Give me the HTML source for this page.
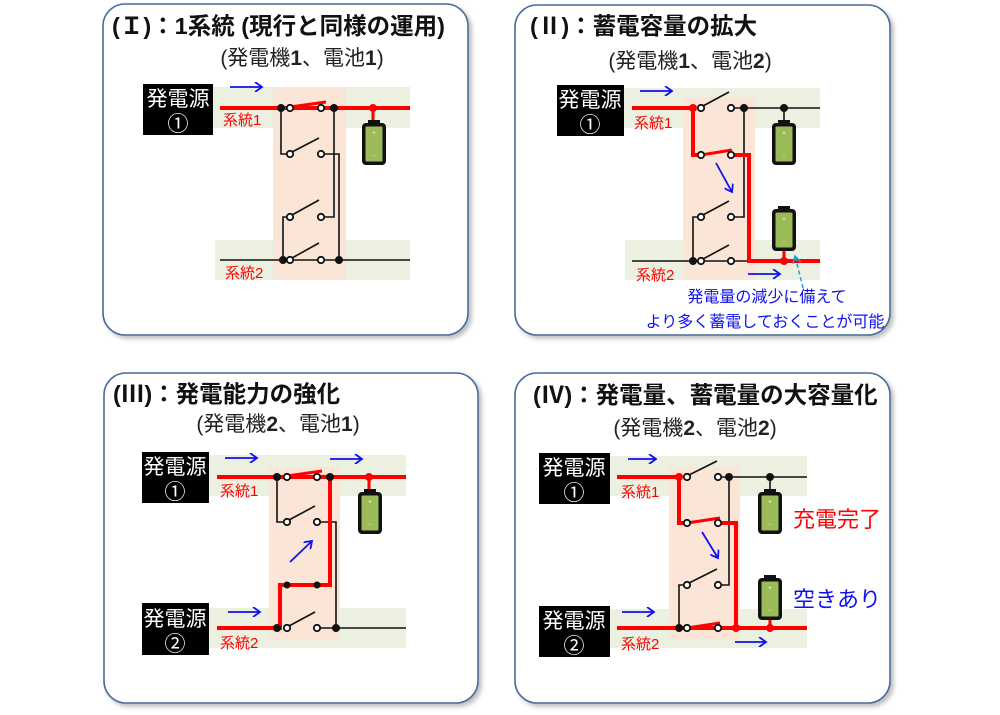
<!DOCTYPE html>
<html><head><meta charset="utf-8"><style>
body{margin:0;background:#fff}
svg{display:block}
text{font-family:"Liberation Sans","Noto Sans CJK JP",sans-serif}
.t{font-weight:bold;font-size:23.5px;fill:#111}
.s{font-size:21px;fill:#222}
.g{font-size:21px;fill:#fff}
.k{font-size:15px;fill:#f00}
</style></head><body>
<svg width="1000" height="715" viewBox="0 0 1000 715" xmlns="http://www.w3.org/2000/svg">
<defs>
<marker id="ah" markerWidth="10" markerHeight="10" refX="8" refY="5" orient="auto" markerUnits="userSpaceOnUse"><polyline points="1,0 8,5 1,10" fill="none" stroke="#1010f0" stroke-width="1.8"/></marker>
<marker id="ac" markerWidth="10" markerHeight="10" refX="8" refY="5" orient="auto" markerUnits="userSpaceOnUse"><polyline points="1,1 8,5 1,9" fill="none" stroke="#1aa0e0" stroke-width="1.5"/></marker>
<g id="bat"><rect x="6" y="-3" width="12" height="5" fill="#111"/><rect x="0" y="0" width="24" height="42" rx="4" fill="#111"/><rect x="3.5" y="3.5" width="17" height="35" rx="1" fill="#9bbb59"/><text x="12" y="12" font-size="6" fill="#fff" text-anchor="middle">+</text><text x="12" y="34" font-size="6" fill="#fff" text-anchor="middle">-</text></g>
<filter id="sh" x="-5%" y="-5%" width="110%" height="110%"><feDropShadow dx="3" dy="3" stdDeviation="2" flood-color="#000" flood-opacity="0.25"/></filter>
</defs>

<g fill="#fff" stroke="#4a6c9b" stroke-width="1.6" filter="url(#sh)">
<rect x="103" y="4" width="365" height="331" rx="22"/>
<rect x="515" y="5" width="375" height="330" rx="22"/>
<rect x="104" y="373" width="374" height="330" rx="22"/>
<rect x="515" y="373" width="375" height="330" rx="22"/>
</g>

<!-- ===== Panel I ===== -->
<text class="t" x="112" y="34">(Ｉ)：1系統 (現行と同様の運用)</text>
<text class="s" x="302" y="65" text-anchor="middle">(発電機<tspan font-weight="bold">1</tspan>、電池<tspan font-weight="bold">1</tspan>)</text>
<rect x="213" y="87" width="197" height="41" fill="#ebf0e0"/>
<rect x="215" y="240" width="195" height="40" fill="#ebf0e0"/>
<rect x="273" y="87" width="73" height="193" fill="#fbe5d6"/>
<rect x="143" y="84" width="70" height="51" fill="#000"/>
<text class="g" x="178" y="106" text-anchor="middle">発電源</text>
<text class="g" x="178" y="131" text-anchor="middle">①</text>
<line x1="230" y1="87" x2="262" y2="87" stroke="#1010f0" stroke-width="1.8" marker-end="url(#ah)"/>
<text class="k" x="223" y="125">系統1</text>
<text class="k" x="225" y="278">系統2</text>
<g stroke="#111" stroke-width="1.6" fill="none">
<polyline points="281,108 281,154 290,154"/>
<polyline points="321,154 339,154 339,260"/>
<polyline points="321,217 334,217 334,108"/>
<polyline points="290,217 283,217 283,260"/>
<line x1="220" y1="260" x2="410" y2="260"/>
<line x1="292" y1="152" x2="319" y2="138"/>
<line x1="292" y1="215" x2="319" y2="200"/>
<line x1="292" y1="258" x2="319" y2="243"/>
</g>
<line x1="220" y1="108" x2="410" y2="108" stroke="#f00" stroke-width="4"/>
<line x1="290" y1="107" x2="326" y2="102" stroke="#f00" stroke-width="3"/>
<line x1="373" y1="108" x2="373" y2="124" stroke="#f00" stroke-width="3"/>
<use href="#bat" x="362" y="123"/>
<g fill="#111"><circle cx="281" cy="108" r="4"/><circle cx="334" cy="108" r="4"/><circle cx="283" cy="260" r="4"/><circle cx="339" cy="260" r="4"/></g>
<circle cx="373" cy="108" r="4" fill="#f00"/>
<g fill="#fff" stroke="#111" stroke-width="1.8"><circle cx="290" cy="108" r="3.2"/><circle cx="321" cy="108" r="3.2"/><circle cx="290" cy="154" r="3.2"/><circle cx="321" cy="154" r="3.2"/><circle cx="290" cy="217" r="3.2"/><circle cx="321" cy="217" r="3.2"/><circle cx="290" cy="260" r="3.2"/><circle cx="321" cy="260" r="3.2"/></g>

<!-- ===== Panel II ===== -->
<text class="t" x="530" y="34">(Ⅱ)：蓄電容量の拡大</text>
<text class="s" x="690" y="68" text-anchor="middle">(発電機<tspan font-weight="bold">1</tspan>、電池<tspan font-weight="bold">2</tspan>)</text>
<rect x="624" y="88" width="196" height="40" fill="#ebf0e0"/>
<rect x="625" y="240" width="195" height="40" fill="#ebf0e0"/>
<rect x="683" y="98" width="72" height="182" fill="#fbe5d6"/>
<rect x="557" y="85" width="67" height="51" fill="#000"/>
<text class="g" x="590" y="107" text-anchor="middle">発電源</text>
<text class="g" x="590" y="132" text-anchor="middle">①</text>
<line x1="640" y1="91" x2="672" y2="91" stroke="#1010f0" stroke-width="1.8" marker-end="url(#ah)"/>
<text class="k" x="634" y="128">系統1</text>
<text class="k" x="636" y="280">系統2</text>
<g stroke="#111" stroke-width="1.6" fill="none">
<line x1="731" y1="108" x2="820" y2="108"/>
<polyline points="731,217 744,217 744,108"/>
<polyline points="701,217 693,217 693,261"/>
<line x1="632" y1="261" x2="749" y2="261"/>
<line x1="703" y1="106" x2="729" y2="92"/>
<line x1="703" y1="215" x2="729" y2="201"/>
<line x1="703" y1="259" x2="729" y2="245"/>
<line x1="784" y1="108" x2="784" y2="124"/>
</g>
<g stroke="#f00" stroke-width="4" fill="none">
<polyline points="632,108 693,108 693,155 701,155"/>
<line x1="701" y1="155" x2="732" y2="150" stroke-width="3"/>
<polyline points="731,155 749,155 749,261 820,261"/>
<line x1="784" y1="261" x2="784" y2="250" stroke-width="3"/>
</g>
<use href="#bat" x="772" y="123"/>
<use href="#bat" x="772" y="209"/>
<circle cx="693" cy="108" r="4" fill="#f00"/><circle cx="784" cy="261" r="4" fill="#f00"/>
<g fill="#111"><circle cx="744" cy="108" r="4"/><circle cx="784" cy="108" r="4"/><circle cx="693" cy="261" r="4"/></g>
<g fill="#fff" stroke="#111" stroke-width="1.8"><circle cx="701" cy="108" r="3.2"/><circle cx="731" cy="108" r="3.2"/><circle cx="701" cy="155" r="3.2"/><circle cx="731" cy="155" r="3.2"/><circle cx="701" cy="217" r="3.2"/><circle cx="731" cy="217" r="3.2"/><circle cx="701" cy="261" r="3.2"/><circle cx="731" cy="261" r="3.2"/></g>
<line x1="716" y1="163" x2="732" y2="192" stroke="#1010f0" stroke-width="1.8" marker-end="url(#ah)"/>
<line x1="748" y1="274" x2="780" y2="274" stroke="#1010f0" stroke-width="1.8" marker-end="url(#ah)"/>
<line x1="803" y1="288" x2="795" y2="256" stroke="#1aa0e0" stroke-width="1.5" stroke-dasharray="4,3" marker-end="url(#ac)"/>
<text x="767" y="302" font-size="16" fill="#1010f0" text-anchor="middle">発電量の減少に備えて</text>
<text x="765" y="327" font-size="16" fill="#1010f0" text-anchor="middle">より多く蓄電しておくことが可能</text>

<!-- ===== Panel III ===== -->
<text class="t" x="113" y="402">(Ⅲ)：発電能力の強化</text>
<text class="s" x="278" y="431" text-anchor="middle">(発電機<tspan font-weight="bold">2</tspan>、電池<tspan font-weight="bold">1</tspan>)</text>
<rect x="209" y="455" width="197" height="41" fill="#ebf0e0"/>
<rect x="209" y="608" width="197" height="40" fill="#ebf0e0"/>
<rect x="269" y="467" width="71" height="173" fill="#fbe5d6"/>
<rect x="142" y="452" width="67" height="51" fill="#000"/>
<text class="g" x="175" y="474" text-anchor="middle">発電源</text>
<text class="g" x="175" y="499" text-anchor="middle">①</text>
<rect x="142" y="603" width="67" height="52" fill="#000"/>
<text class="g" x="175" y="626" text-anchor="middle">発電源</text>
<text class="g" x="175" y="651" text-anchor="middle">②</text>
<line x1="225" y1="458" x2="257" y2="458" stroke="#1010f0" stroke-width="1.8" marker-end="url(#ah)"/>
<line x1="330" y1="459" x2="362" y2="459" stroke="#1010f0" stroke-width="1.8" marker-end="url(#ah)"/>
<line x1="228" y1="612" x2="260" y2="612" stroke="#1010f0" stroke-width="1.8" marker-end="url(#ah)"/>
<line x1="290" y1="562" x2="312" y2="541" stroke="#1010f0" stroke-width="1.8" marker-end="url(#ah)"/>
<text class="k" x="220" y="496">系統1</text>
<text class="k" x="220" y="648">系統2</text>
<g stroke="#111" stroke-width="1.6" fill="none">
<polyline points="277,477 277,522 287,522"/>
<polyline points="317,522 336,522 336,628 406,628"/>
<line x1="317" y1="628" x2="336" y2="628"/>
<line x1="289" y1="520" x2="315" y2="506"/>
<line x1="289" y1="626" x2="315" y2="612"/>
</g>
<g stroke="#f00" stroke-width="4" fill="none">
<line x1="217" y1="477" x2="406" y2="477"/>
<line x1="287" y1="476" x2="322" y2="471" stroke-width="3"/>
<polyline points="217,628 280,628 280,585 330,585 330,477"/>
<line x1="369" y1="477" x2="369" y2="493" stroke-width="3"/>
</g>
<use href="#bat" x="358" y="492"/>
<circle cx="369" cy="477" r="4" fill="#f00"/>
<g fill="#111"><circle cx="277" cy="477" r="4"/><circle cx="330" cy="477" r="4"/><circle cx="277" cy="628" r="4"/><circle cx="336" cy="628" r="4"/><circle cx="287" cy="585" r="3.5"/><circle cx="317" cy="585" r="3.5"/></g>
<g fill="#fff" stroke="#111" stroke-width="1.8"><circle cx="287" cy="477" r="3.2"/><circle cx="317" cy="477" r="3.2"/><circle cx="287" cy="522" r="3.2"/><circle cx="317" cy="522" r="3.2"/><circle cx="287" cy="628" r="3.2"/><circle cx="317" cy="628" r="3.2"/></g>

<!-- ===== Panel IV ===== -->
<text class="t" x="533" y="403">(Ⅳ)：発電量、蓄電量の大容量化</text>
<text class="s" x="695" y="435" text-anchor="middle">(発電機<tspan font-weight="bold">2</tspan>、電池<tspan font-weight="bold">2</tspan>)</text>
<rect x="610" y="456" width="197" height="40" fill="#ebf0e0"/>
<rect x="610" y="609" width="197" height="39" fill="#ebf0e0"/>
<rect x="669" y="467" width="71" height="173" fill="#fbe5d6"/>
<rect x="539" y="453" width="71" height="51" fill="#000"/>
<text class="g" x="574" y="475" text-anchor="middle">発電源</text>
<text class="g" x="574" y="500" text-anchor="middle">①</text>
<rect x="539" y="606" width="71" height="51" fill="#000"/>
<text class="g" x="574" y="628" text-anchor="middle">発電源</text>
<text class="g" x="574" y="653" text-anchor="middle">②</text>
<line x1="628" y1="459" x2="656" y2="459" stroke="#1010f0" stroke-width="1.8" marker-end="url(#ah)"/>
<line x1="622" y1="612" x2="654" y2="612" stroke="#1010f0" stroke-width="1.8" marker-end="url(#ah)"/>
<line x1="735" y1="642" x2="766" y2="642" stroke="#1010f0" stroke-width="1.8" marker-end="url(#ah)"/>
<line x1="702" y1="532" x2="718" y2="558" stroke="#1010f0" stroke-width="1.8" marker-end="url(#ah)"/>
<text class="k" x="621" y="497">系統1</text>
<text class="k" x="621" y="649">系統2</text>
<g stroke="#111" stroke-width="1.6" fill="none">
<line x1="718" y1="477" x2="807" y2="477"/>
<polyline points="718,585 729,585 729,477"/>
<polyline points="687,585 679,585 679,628"/>
<line x1="689" y1="475" x2="717" y2="461"/>
<line x1="689" y1="583" x2="717" y2="569"/>
<line x1="770" y1="477" x2="770" y2="493"/>
</g>
<g stroke="#f00" stroke-width="4" fill="none">
<polyline points="617,477 679,477 679,523 687,523"/>
<line x1="687" y1="523" x2="720" y2="518" stroke-width="3"/>
<polyline points="718,523 736,523 736,628"/>
<line x1="617" y1="628" x2="807" y2="628"/>
<line x1="687" y1="628" x2="720" y2="623" stroke-width="3"/>
<line x1="770" y1="628" x2="770" y2="618" stroke-width="3"/>
</g>
<use href="#bat" x="758" y="492"/>
<use href="#bat" x="758" y="578"/>
<circle cx="679" cy="477" r="4" fill="#f00"/><circle cx="736" cy="628" r="4" fill="#f00"/><circle cx="770" cy="628" r="4" fill="#f00"/>
<g fill="#111"><circle cx="729" cy="477" r="4"/><circle cx="770" cy="477" r="4"/><circle cx="679" cy="628" r="4"/></g>
<g fill="#fff" stroke="#111" stroke-width="1.8"><circle cx="687" cy="477" r="3.2"/><circle cx="718" cy="477" r="3.2"/><circle cx="687" cy="523" r="3.2"/><circle cx="718" cy="523" r="3.2"/><circle cx="687" cy="585" r="3.2"/><circle cx="718" cy="585" r="3.2"/><circle cx="687" cy="628" r="3.2"/><circle cx="718" cy="628" r="3.2"/></g>
<text x="793" y="527" font-size="22" fill="#f00">充電完了</text>
<text x="793" y="607" font-size="22" fill="#1010f0">空きあり</text>
</svg>
</body></html>
